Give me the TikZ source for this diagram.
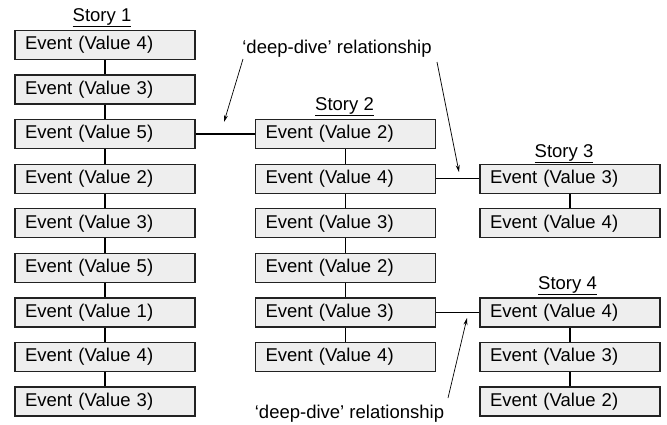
\documentclass[tikz,border=0pt]{standalone}
\usepackage{fontspec}
\setmainfont{Liberation Sans}
\usetikzlibrary{arrows.meta}
\definecolor{boxfill}{HTML}{EEEEEE}
\definecolor{boxline}{HTML}{222222}
\begin{document}
\begin{tikzpicture}[x=1pt,y=-1pt,
  font=\fontsize{18.5}{22}\selectfont,
  evbox/.style={draw=boxline, fill=boxfill, line width=1.3pt, minimum width=180pt, minimum height=29pt,
    text width=160pt, inner xsep=10pt, inner ysep=0pt, align=left},
  link/.style={draw=black, line width=1.3pt},
  pointer/.style={draw=black, line width=0.7pt, -{Stealth[length=7pt,width=4pt]}},
  storylabel/.style={anchor=base, inner sep=0pt}]
\useasboundingbox (0,0) rectangle (667,424);
\def\rowy#1{45+(#1-1)*44.56}
% Story 1
\node[storylabel] (s1) at (102,21) {\underline{Story 1}};
\foreach \v [count=\i] in {4,3,5,2,3,5,1,4,3} {
  \node[evbox] (a\i) at (105,{\rowy{\i}}) {Event (Value \v)};
}
\foreach \i [evaluate=\i as \j using int(\i+1)] in {1,...,8} {
  \draw[link] (a\i) -- (a\j);
}
% Story 2
\node[storylabel] (s2) at (344.5,110) {\underline{Story 2}};
\foreach \v [count=\i] in {2,4,3,2,3,4} {
  \node[evbox] (b\i) at (345.5,{\rowy{\i+2}}) {Event (Value \v)};
}
\foreach \i [evaluate=\i as \j using int(\i+1)] in {1,...,5} {
  \draw[link] (b\i) -- (b\j);
}
% Story 3
\node[storylabel] (s3) at (564,157) {\underline{Story 3}};
\node[evbox] (c1) at (570,{\rowy{4}}) {Event (Value 3)};
\node[evbox] (c2) at (570,{\rowy{5}}) {Event (Value 4)};
\draw[link] (c1) -- (c2);
% Story 4
\node[storylabel] (s4) at (567.5,289) {\underline{Story 4}};
\node[evbox] (d1) at (570,{\rowy{7}}) {Event (Value 4)};
\node[evbox] (d2) at (570,{\rowy{8}}) {Event (Value 3)};
\node[evbox] (d3) at (570,{\rowy{9}}) {Event (Value 2)};
\draw[link] (d1) -- (d2);
\draw[link] (d2) -- (d3);
% deep-dive links
\draw[link] (a3.east) -- (b1.west);
\draw[link] (b2.east) -- (c1.west);
\draw[link] (b5.east) -- (d1.west);
% labels and pointers
\node[storylabel] (t1) at (337,53) {‘deep-dive’ relationship};
\node[storylabel] (t2) at (349.5,418) {‘deep-dive’ relationship};
\coordinate (p1s) at (243,59);
\coordinate (p1e) at (224,122);
\coordinate (p2s) at (437,62);
\coordinate (p2e) at (459,172);
\coordinate (p3s) at (448,398);
\coordinate (p3e) at (467,318);
\draw[pointer] (p1s) -- (p1e);
\draw[pointer] (p2s) -- (p2e);
\draw[pointer] (p3s) -- (p3e);
\end{tikzpicture}
\end{document}
